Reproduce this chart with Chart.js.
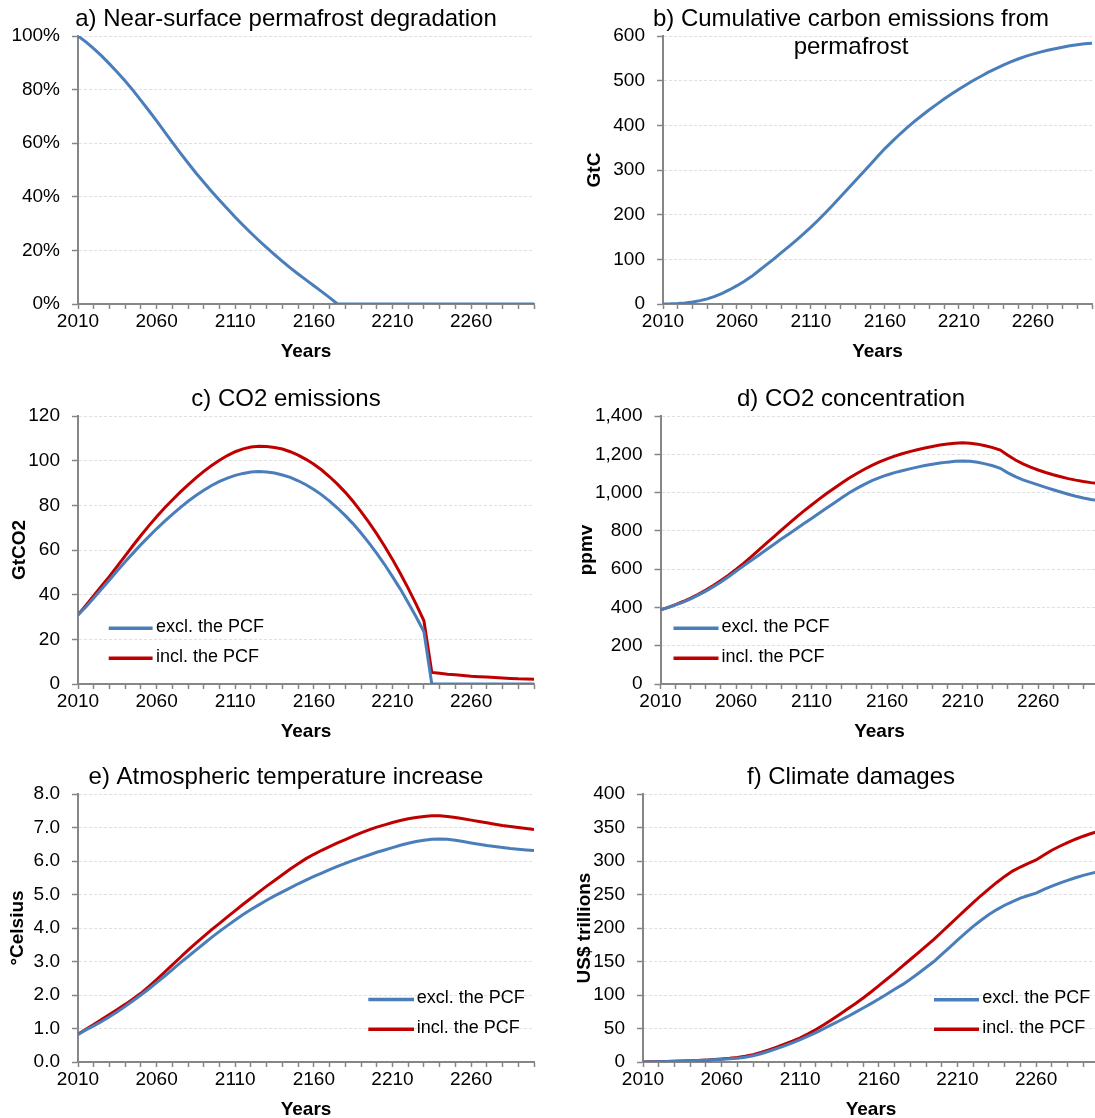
<!DOCTYPE html>
<html>
<head>
<meta charset="utf-8">
<title>Permafrost carbon feedback – model results</title>
<script src="https://cdn.jsdelivr.net/npm/chart.js@4.4.1/dist/chart.umd.min.js"></script>
<style>
  html, body { margin: 0; padding: 0; background: #fff; overflow: hidden; width: 1095px; height: 1118px; }
  canvas { position: absolute; }
</style>
</head>
<body>
<canvas id="panelA" width="572" height="363" style="left:0px;top:0px"></canvas>
<canvas id="panelB" width="582" height="363" style="left:560px;top:0px"></canvas>
<canvas id="panelC" width="572" height="363" style="left:0px;top:380px"></canvas>
<canvas id="panelD" width="582" height="363" style="left:560px;top:380px"></canvas>
<canvas id="panelE" width="572" height="363" style="left:0px;top:758px"></canvas>
<canvas id="panelF" width="582" height="363" style="left:560px;top:758px"></canvas>
<script>
// ---- model years (5-year steps) ----
const years = [
  2010,2015,2020,2025,2030,2035,2040,2045,2050,2055,
  2060,2065,2070,2075,2080,2085,2090,2095,2100,2105,
  2110,2115,2120,2125,2130,2135,2140,2145,2150,2155,
  2160,2165,2170,2175,2180,2185,2190,2195,2200,2205,
  2210,2215,2220,2225,2230,2235,2240,2245,2250,2255,
  2260,2265,2270,2275,2280,2285,2290,2295,2300
];

// a) remaining near-surface permafrost area (%)
const permafrostRemaining = [
  100,97.8,95.3,92.6,89.6,86.5,83.2,79.7,76.0,72.2,
  68.3,64.3,60.3,56.4,52.6,48.9,45.4,42.0,38.7,35.5,
  32.4,29.4,26.5,23.7,21.0,18.4,15.9,13.5,11.2,9.0,
  6.8,4.6,2.4,0,0,0,0,0,0,0,
  0,0,0,0,0,0,0,0,0,0,
  0,0,0,0,0,0,0,0,0
];

// b) cumulative carbon released from permafrost (GtC)
const permafrostCarbon = [
  0,0.3,1,2.5,4.5,7.5,11.5,17,24,32,
  41,51,62,75,88,101,115,128.5,142.5,157,
  172,188,205,222,240,258,276,294,312,330,
  348,364,380,395,409,422,435,447,459,470,
  481,491,501,510,519,527,535,542,548.5,554.5,
  559.5,564,568,571.5,575,578,580.5,582.5,584
];

// c) CO2 emissions (GtCO2)
const emissionsExcl = [
  30.9,34.5,38.5,42.5,46.6,50.7,54.7,58.6,62.4,66.0,
  69.5,72.8,76.0,79.0,81.8,84.4,86.8,88.9,90.7,92.2,
  93.4,94.3,94.9,95.1,94.9,94.5,93.6,92.5,91.0,89.2,
  87.1,84.7,81.9,78.8,75.4,71.7,67.6,63.2,58.5,53.5,
  48.1,42.5,36.4,30.1,23.4,0,0,0,0,0,
  0,0,0,0,0,0,0,0,0
];
const emissionsIncl = [
  31.0,35.2,39.5,43.9,48.2,52.8,57.4,62.0,66.5,70.8,
  74.9,78.8,82.4,85.9,89.2,92.3,95.2,97.8,100.2,102.3,
  104.0,105.3,106.1,106.4,106.3,105.9,105.2,104.0,102.5,100.6,
  98.4,95.8,92.8,89.5,85.8,81.7,77.2,72.4,67.2,61.7,
  55.8,49.5,42.8,35.8,28.3,5.2,4.8,4.4,4.1,3.8,
  3.5,3.3,3.1,2.9,2.7,2.5,2.3,2.2,2.1
];

// d) atmospheric CO2 concentration (ppmv)
const concentrationExcl = [
  387,399,413,428,445,464,485,508,533,560,
  589,617,645,673,701,729,757,784,811,838,
  865,892,919,946,973,999,1022,1043,1062,1078,
  1092,1104,1114,1124,1133,1141,1148,1154,1159,1163,
  1165,1163,1158,1150,1140,1127,1103,1083,1066,1053,
  1040,1027,1015,1003,991,981,972,964,958
];
const concentrationIncl = [
  387,400,415,431,449,469,491,515,541,568,
  598,630,664,699,734,769,804,838,872,904,
  935,966,995,1023,1050,1076,1100,1122,1142,1160,
  1176,1190,1203,1214,1224,1233,1241,1248,1254,1258,
  1260,1258,1253,1245,1235,1222,1195,1170,1150,1133,
  1118,1105,1093,1083,1073,1065,1058,1052,1047
];

// e) atmospheric temperature increase (°C)
const temperatureExcl = [
  0.82,0.96,1.08,1.21,1.35,1.50,1.66,1.83,2.00,2.18,
  2.37,2.56,2.76,2.96,3.15,3.34,3.53,3.72,3.90,4.07,
  4.24,4.40,4.55,4.69,4.83,4.96,5.08,5.20,5.32,5.43,
  5.54,5.64,5.74,5.84,5.93,6.02,6.10,6.18,6.26,6.33,
  6.40,6.47,6.53,6.58,6.62,6.65,6.66,6.65,6.62,6.58,
  6.54,6.50,6.46,6.43,6.40,6.37,6.35,6.33,6.31
];
const temperatureIncl = [
  0.83,0.98,1.12,1.27,1.42,1.57,1.72,1.88,2.05,2.25,
  2.46,2.68,2.90,3.12,3.34,3.55,3.75,3.95,4.14,4.33,
  4.52,4.71,4.89,5.07,5.25,5.42,5.59,5.76,5.92,6.07,
  6.20,6.32,6.43,6.54,6.64,6.74,6.84,6.93,7.01,7.08,
  7.15,7.21,7.26,7.30,7.33,7.35,7.35,7.33,7.30,7.26,
  7.22,7.18,7.14,7.10,7.06,7.03,7.00,6.97,6.94
];

// f) climate damages (US$ trillions)
const damagesExcl = [
  0,0.2,0.4,0.7,1.0,1.4,1.9,2.3,2.7,3.3,
  4.0,4.7,5.6,7.2,9.3,12.3,16.0,20.0,24.0,28.5,
  33.3,38.5,44.0,49.8,55.7,61.6,67.6,74.0,80.6,87.2,
  94.0,101.2,108.5,115.5,123.5,132.0,141.0,150.0,160.5,171.0,
  182.0,192.5,202.5,211.5,220.0,227.5,234.0,239.5,244.5,248.5,
  252.0,257.5,262.5,267.0,271.0,275.0,278.5,281.5,284.5
];
const damagesIncl = [
  0,0.2,0.4,0.7,1.0,1.4,2.0,2.4,2.8,3.6,
  4.5,5.5,6.8,8.6,11.0,14.2,18.0,22.0,26.5,31.0,
  36.0,42.0,48.5,55.5,63.0,71.0,79.0,87.0,95.5,104.5,
  114.0,123.5,133.0,143.0,153.0,163.0,173.0,183.0,194.0,205.0,
  216.0,227.0,238.0,248.5,258.5,268.0,277.0,285.0,291.0,296.5,
  301.5,309.0,316.0,322.0,327.5,332.5,337.0,341.0,344.5
];

const seriesLabels = ['excl. the PCF', 'incl. the PCF'];
const BLUE = '#4A7EBB';
const RED = '#C00000';
const AXIS_GREY = '#868686';
const FONT = '"Liberation Sans", Arial, Helvetica, sans-serif';

Chart.defaults.font.family = FONT;
Chart.defaults.color = '#000';

// Legend drawn inside the plot area, two stacked rows
const insideLegend = {
  id: 'insideLegend',
  afterDatasetsDraw(chart, args, opts) {
    if (!opts || !opts.rows) return;
    const { ctx, chartArea } = chart;
    ctx.save();
    ctx.font = '18px ' + FONT;
    ctx.textBaseline = 'middle';
    ctx.textAlign = 'left';
    ctx.lineCap = 'butt';
    chart.data.datasets.forEach((ds, i) => {
      const y = chartArea.top + opts.rows[i];
      ctx.strokeStyle = ds.borderColor;
      ctx.lineWidth = 3.5;
      ctx.beginPath();
      ctx.moveTo(chartArea.left + opts.x0, y);
      ctx.lineTo(chartArea.left + opts.x1, y);
      ctx.stroke();
      ctx.fillStyle = '#000';
      ctx.fillText(ds.label, chartArea.left + opts.textX, y - 1.5);
    });
    ctx.restore();
  }
};

function xAxis() {
  return {
    type: 'linear',
    min: 2010,
    max: 2300,
    afterFit: s => { s.height = 59; },
    ticks: {
      stepSize: 10,
      autoSkip: false,
      maxRotation: 0,
      minRotation: 0,
      padding: 1,
      font: { size: 19 },
      color: '#000',
      callback: v => ((v - 2010) % 50 === 0 ? String(v) : '')
    },
    grid: { drawOnChartArea: false, drawTicks: true, tickLength: 5, tickColor: AXIS_GREY, tickWidth: 1.5, color: AXIS_GREY },
    border: { display: true, color: AXIS_GREY, width: 2 },
    title: { display: true, text: 'Years', color: '#000', font: { size: 19, weight: 'bold' }, padding: { top: 0, bottom: 0 } }
  };
}

function yAxis(o) {
  return {
    min: o.min,
    max: o.max,
    afterFit: s => { s.width = o.width; },
    ticks: { stepSize: o.step, callback: o.format, font: { size: 19 }, color: '#000', padding: 12 },
    grid: { color: '#e0e0e0', lineWidth: 1, drawTicks: true, tickLength: 6, tickColor: AXIS_GREY, tickWidth: 1.5 },
    border: { display: true, color: AXIS_GREY, width: 2, dash: [3, 2] },
    title: o.title
      ? { display: true, text: o.title, color: '#000', font: { size: 19, weight: 'bold' }, padding: { top: o.titlePad, bottom: 0 } }
      : { display: false }
  };
}

// empty margin on the right of the plot, so the chart title sits where it should
function rightMargin(width) {
  return {
    position: 'right',
    display: true,
    afterFit: s => { s.width = width; },
    ticks: { display: false },
    grid: { display: false },
    border: { display: false }
  };
}

function lineSet(label, values, color) {
  return { label, data: values, borderColor: color, backgroundColor: color, borderWidth: 3, pointRadius: 0, tension: 0, fill: false };
}

function panel(id, p) {
  new Chart(document.getElementById(id), {
    type: 'line',
    data: { labels: years, datasets: p.datasets },
    options: {
      responsive: false,
      animation: false,
      events: [],
      layout: { padding: 0 },
      scales: { x: xAxis(), y: yAxis(p.y), margin: rightMargin(p.rightWidth) },
      plugins: {
        legend: { display: false },
        tooltip: { enabled: false },
        title: {
          display: true,
          text: p.title,
          color: '#000',
          font: { size: 24, weight: 'normal', lineHeight: p.titleLineHeight || 1.2 },
          padding: p.titlePadding || { top: 5.2, bottom: 2.0 }
        },
        insideLegend: p.legend || false
      }
    },
    plugins: [insideLegend]
  });
}

panel('panelA', {
  title: 'a) Near-surface permafrost degradation',
  rightWidth: 38,
  datasets: [lineSet('Permafrost area', permafrostRemaining, BLUE)],
  y: { min: 0, max: 100, step: 20, width: 78, format: v => v + '%' }
});

panel('panelB', {
  title: ['b) Cumulative carbon emissions from', 'permafrost'],
  titleLineHeight: 1.1667,
  titlePadding: { top: 5, bottom: -25 },
  rightWidth: 50,
  datasets: [lineSet('Cumulative emissions', permafrostCarbon, BLUE)],
  y: { min: 0, max: 600, step: 100, width: 103, format: v => String(v), title: 'GtC', titlePad: 23.8 }
});

panel('panelC', {
  title: 'c) CO2 emissions',
  rightWidth: 38,
  datasets: [lineSet(seriesLabels[0], emissionsExcl, BLUE), lineSet(seriesLabels[1], emissionsIncl, RED)],
  y: { min: 0, max: 120, step: 20, width: 78, format: v => String(v), title: 'GtCO2', titlePad: 7.9 },
  legend: { x0: 30.7, x1: 74.6, textX: 78, rows: [212.3, 242.3] }
});

panel('panelD', {
  title: 'd) CO2 concentration',
  rightWidth: 43.5,
  datasets: [lineSet(seriesLabels[0], concentrationExcl, BLUE), lineSet(seriesLabels[1], concentrationIncl, RED)],
  y: { min: 0, max: 1400, step: 200, width: 100.5, format: v => v.toLocaleString('en-US'), title: 'ppmv', titlePad: 15.1 },
  legend: { x0: 13, x1: 58, textX: 61, rows: [212.3, 242.3] }
});

panel('panelE', {
  title: 'e) Atmospheric temperature increase',
  rightWidth: 38,
  datasets: [lineSet(seriesLabels[0], temperatureExcl, BLUE), lineSet(seriesLabels[1], temperatureIncl, RED)],
  y: { min: 0, max: 8, step: 1, width: 78, format: v => v.toFixed(1), title: '°Celsius', titlePad: 6.1 },
  legend: { x0: 290.3, x1: 336, textX: 338.7, rows: [205.5, 235.3] }
});

panel('panelF', {
  title: 'f) Climate damages',
  rightWidth: 43,
  datasets: [lineSet(seriesLabels[0], damagesExcl, BLUE), lineSet(seriesLabels[1], damagesIncl, RED)],
  y: { min: 0, max: 400, step: 50, width: 83, format: v => String(v), title: 'US$ trillions', titlePad: 13.4 },
  legend: { x0: 291, x1: 336, textX: 339.3, rows: [205.7, 235.3] }
});
</script>
</body>
</html>
